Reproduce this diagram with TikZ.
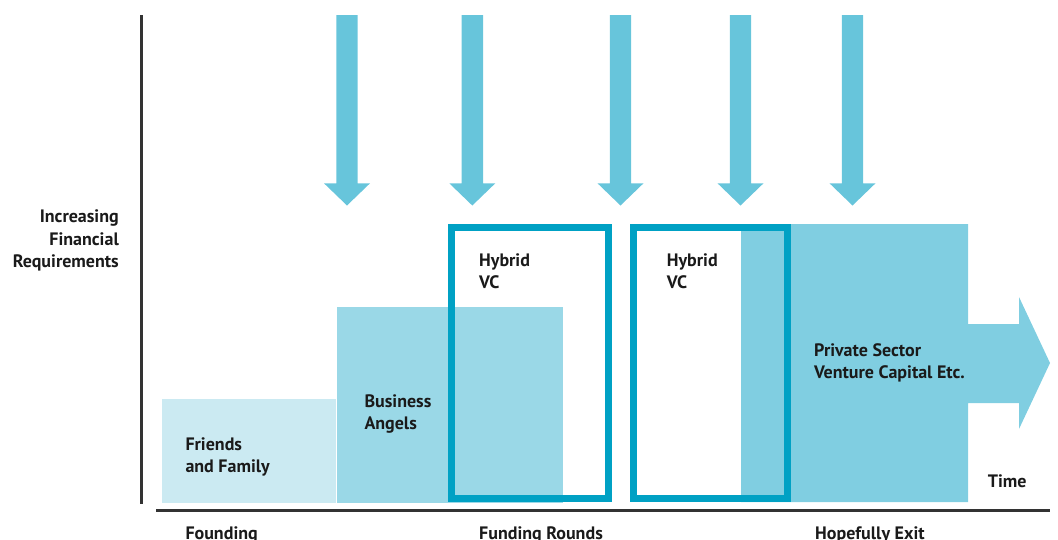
\documentclass[tikz,border=0pt]{standalone}
\usepackage{fontspec}
\setmainfont{PT Sans}
\definecolor{arrowblue}{HTML}{67C5DB}
\definecolor{friendsfill}{HTML}{CBEAF2}
\definecolor{angelsfill}{HTML}{9AD8E7}
\definecolor{privatefill}{HTML}{80CEE1}
\definecolor{hybridline}{HTML}{00A1C4}
\definecolor{axisgrey}{HTML}{333333}
\definecolor{txt}{HTML}{1A1A1A}
\newcommand{\twolns}[2]{\vtop{\baselineskip=22pt\hbox{#1}\hbox{#2}}}
\begin{document}
\begin{tikzpicture}[x=1pt,y=-1pt,
  lbl/.style={inner sep=0pt,anchor=base west,text=txt,font=\fontsize{18}{22}\selectfont\bfseries},
  downarrow/.style={fill=arrowblue,draw=none},
  hybridbox/.style={draw=hybridline,line width=7pt},
  axisline/.style={draw=axisgrey,line width=2.5pt}]
\useasboundingbox (0,0) rectangle (1058,539);
% funding blocks
\fill[friendsfill] (162,399) rectangle (335.7,503);
\fill[angelsfill] (337,307) rectangle (563,503);
\fill[privatefill] (741,224) -- (968,224) -- (968,324) -- (1019,324) -- (1019,297)
   -- (1050,363) -- (1019,429) -- (1019,403) -- (968,403) -- (968,502) -- (741,502) -- cycle;
% hybrid VC outlines
\draw[hybridbox] (451.5,227.5) rectangle (608,498.5);
\draw[hybridbox] (633.5,227.5) rectangle (787.2,498.5);
% down arrows
\foreach \cx in {347,472.3,620.5,740.5,852.5}{
  \fill[downarrow] (\cx-10.7,15) -- (\cx+10.7,15) -- (\cx+10.7,183.3) -- (\cx+23,183.3)
     -- (\cx,205.5) -- (\cx-23,183.3) -- (\cx-10.7,183.3) -- cycle;
}
% axes
\coordinate (ytop) at (141.7,15);
\coordinate (ybot) at (141.7,503.5);
\coordinate (xleft) at (156,510.7);
\coordinate (xright) at (1050,510.7);
\draw[axisline] (ytop) -- (ybot);
\draw[axisline] (xleft) -- (xright);
% labels
\node[lbl,anchor=base east] (req) at (119,222.7)
  {\vtop{\baselineskip=22.3pt\halign{\hfil#\cr Increasing\cr Financial\cr Requirements\cr}}};
\node[lbl] (friends) at (185.3,450) {\twolns{Friends}{and Family}};
\node[lbl] (angels) at (364.3,407.3) {\twolns{Business}{Angels}};
\node[lbl] (hyb1) at (479,266) {\twolns{Hybrid}{VC}};
\node[lbl] (hyb2) at (666.7,266) {\twolns{Hybrid}{VC}};
\node[lbl] (private) at (814,356.7) {\vtop{\baselineskip=21.5pt\hbox{Private Sector}\hbox{Venture Capital Etc.}}};
\node[lbl] (time) at (987.7,487.7) {Time};
\node[lbl] (founding) at (185.3,539.4) {Founding};
\node[lbl] (rounds) at (479,539.4) {Funding Rounds};
\node[lbl] (exit) at (815,539.4) {Hopefully Exit};
\end{tikzpicture}
\end{document}
